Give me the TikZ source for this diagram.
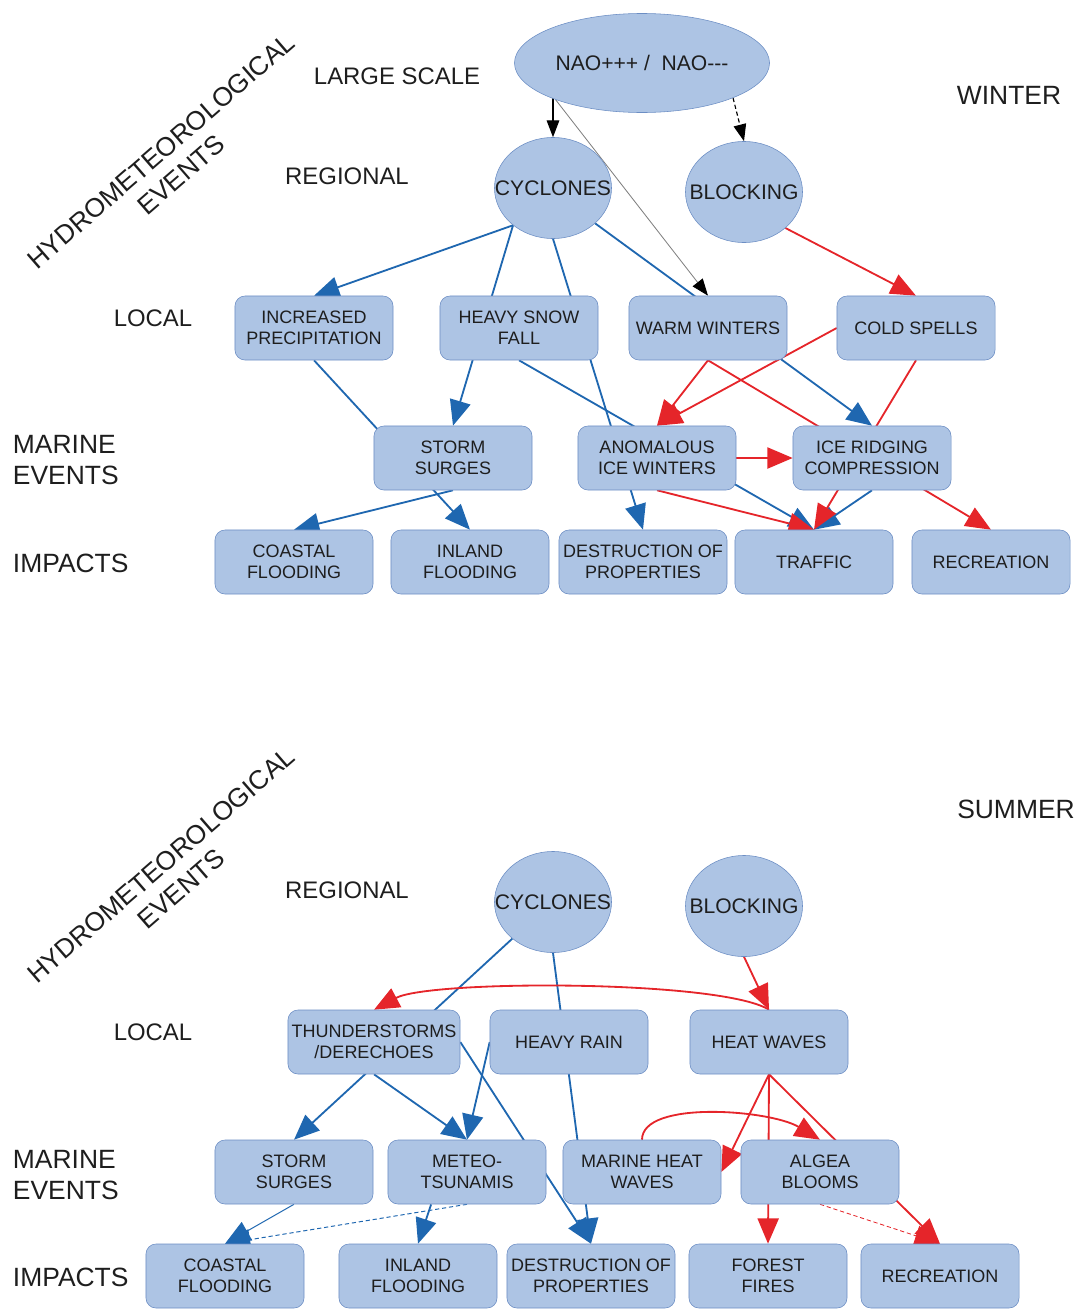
\documentclass[tikz,border=0pt]{standalone}
\usepackage{fontspec}
\setmainfont{Liberation Sans}
\usetikzlibrary{positioning,shapes.geometric,arrows.meta,backgrounds}

\definecolor{boxFill}{RGB}{173,196,228}
\definecolor{boxLine}{RGB}{108,142,196}
\definecolor{lnBlue}{RGB}{31,103,176}
\definecolor{lnRed}{RGB}{229,37,42}
\definecolor{txt}{RGB}{30,30,30}

\begin{document}
\begin{tikzpicture}[
  x=0.025cm,
  y=-0.025cm,
  font=\fontsize{12.8}{14.9}\selectfont,
  n/.style={draw=boxLine, fill=boxFill, rounded corners=0.25cm, minimum width=3.95cm, minimum height=1.6cm, align=center, inner sep=1pt, text=txt},
  c/.style={ellipse, draw=boxLine, fill=boxFill, minimum width=2.925cm, minimum height=2.525cm, label={[text=txt, font=\fontsize{15}{18}\selectfont]center:#1}},
  lbl/.style={text=txt, font=\fontsize{17}{20}\selectfont},
  side/.style={text=txt, font=\fontsize{18.8}{22}\selectfont, align=left},
  bArr/.style={-{Triangle[length=18pt,width=15pt]}, lnBlue, line width=1.3pt},
  rArr/.style={-{Triangle[length=18pt,width=15pt]}, lnRed, line width=1.3pt},
  kArr/.style={-{Triangle[length=12pt,width=9pt]}, black, line width=0.8pt}
]
\useasboundingbox (0,0) rectangle (1079,1309);

% Winter: labels
\node[side, rotate=41, align=center] (wHydro) at (171,163) {HYDROMETEOROLOGICAL\\EVENTS};
\node[lbl] (wLarge) at (397,76) {LARGE SCALE};
\node[lbl] (wRegional) at (347,176) {REGIONAL};
\node[lbl] (wLocal) at (153,318) {LOCAL};
\node[side, anchor=west] (wMarine) at (8,460) {MARINE\\EVENTS};
\node[side, anchor=west] (wImpacts) at (8,563) {IMPACTS};
\node[side] (wSeason) at (1009,95) {WINTER};

% Winter: nodes
\node[c={NAO+++ /\ \ NAO-{}-{}-}, minimum width=6.375cm, minimum height=2.475cm] (wNao) at (642,63) {};
\node[c=CYCLONES] (wCyc) at (553,188) {};
\node[c=BLOCKING] (wBlk) at (744,192) {};

\node[n] (wInc) at (314,328) {INCREASED\\PRECIPITATION};
\node[n] (wSnow) at (519,328) {HEAVY SNOW\\FALL};
\node[n] (wWarm) at (708,328) {WARM WINTERS};
\node[n] (wCold) at (916,328) {COLD SPELLS};

\node[n] (wStorm) at (453,458) {STORM\\SURGES};
\node[n] (wAnom) at (657,458) {ANOMALOUS\\ICE WINTERS};
\node[n] (wIce) at (872,458) {ICE RIDGING\\COMPRESSION};

\node[n] (wCoast) at (294,562) {COASTAL\\FLOODING};
\node[n] (wInl) at (470,562) {INLAND\\FLOODING};
\node[n, minimum width=4.2cm] (wDest) at (643,562) {DESTRUCTION OF\\PROPERTIES};
\node[n] (wTraf) at (814,562) {TRAFFIC};
\node[n] (wRec) at (991,562) {RECREATION};

% Summer: labels
\node[side, rotate=41, align=center] (sHydro) at (171,877) {HYDROMETEOROLOGICAL\\EVENTS};
\node[lbl] (sRegional) at (347,890) {REGIONAL};
\node[lbl] (sLocal) at (153,1032) {LOCAL};
\node[side, anchor=west] (sMarine) at (8,1175) {MARINE\\EVENTS};
\node[side, anchor=west] (sImpacts) at (8,1277) {IMPACTS};
\node[side] (sSeason) at (1016,809) {SUMMER};

% Summer: nodes
\node[c=CYCLONES] (sCyc) at (553,902) {};
\node[c=BLOCKING] (sBlk) at (744,906) {};

\node[n, minimum width=4.3cm] (sThun) at (374,1042) {THUNDERSTORMS\\/DERECHOES};
\node[n] (sRain) at (569,1042) {HEAVY RAIN};
\node[n] (sHeat) at (769,1042) {HEAT WAVES};

\node[n] (sStorm) at (294,1172) {STORM\\SURGES};
\node[n] (sMeteo) at (467,1172) {METEO-\\TSUNAMIS};
\node[n] (sMhw) at (642,1172) {MARINE HEAT\\WAVES};
\node[n] (sAlg) at (820,1172) {ALGEA\\BLOOMS};

\node[n] (sCoast) at (225,1276) {COASTAL\\FLOODING};
\node[n] (sInl) at (418,1276) {INLAND\\FLOODING};
\node[n, minimum width=4.2cm] (sDest) at (591,1276) {DESTRUCTION OF\\PROPERTIES};
\node[n] (sFire) at (768,1276) {FOREST\\FIRES};
\node[n] (sRec) at (940,1276) {RECREATION};

\begin{pgfonlayer}{background}
% Winter: links
\draw[kArr] (wCyc.north |- wNao.center) -- (wCyc.north);
\draw[kArr, densely dashed] (wNao.-21) -- (wBlk.north);
\draw[-{Triangle[length=12pt,width=9pt,color=black]}, gray, line width=0.6pt] (wNao.203) -- (wWarm.north);

\draw[bArr] (wCyc.223) -- (wInc.north);
\draw[bArr] (wCyc.223) -- (wStorm.north);
\draw[bArr] (wCyc.south) -- (wDest.north);
\draw[bArr] (wCyc.-40) -- (wIce.north);
\draw[bArr] (wInc.south) -- (wInl.north);
\draw[bArr] (wStorm.south) -- (wCoast.north);
\draw[bArr] (wSnow.south) -- (wTraf.north);
\draw[bArr] (wIce.south) -- (wTraf.north);

\draw[rArr] (wBlk.-41) -- (wCold.north);
\draw[rArr] (wCold.west) -- (wAnom.north);
\draw[rArr] (wWarm.south) -- (wAnom.north);
\draw[rArr] (wWarm.south) -- (wRec.north);
\draw[rArr] (wCold.south) -- (wTraf.north);
\draw[rArr] (wAnom.east) -- (wIce.west);
\draw[rArr] (wAnom.south) -- (wTraf.north);

% Summer: links
\draw[bArr] (sCyc.222) -- (sStorm.north);
\draw[bArr] (sCyc.south) -- (sDest.north);
\draw[bArr] (sThun.south) -- (sMeteo.north);
\draw[bArr] (sRain.west) -- (sMeteo.north);
\draw[bArr] (sThun.east) -- (sDest.north);
\draw[bArr, line width=0.7pt] (sStorm.south) -- (sCoast.north);
\draw[bArr, line width=0.7pt, densely dashed] (sMeteo.south) -- (sCoast.north);
\draw[bArr] (sMeteo.222) -- (sInl.north);

\draw[rArr] (sBlk.south) -- (sHeat.north);
\draw[rArr] (sHeat.north) .. controls +(-48,-30) and +(56,-30) .. (sThun.north);
\draw[rArr] (sHeat.south) -- (sMhw.east);
\draw[rArr] (sHeat.south) -- (sFire.north);
\draw[rArr] (sHeat.south) -- (sRec.north);
\draw[rArr] (sMhw.north) .. controls +(0,-40) and +(-50,-30) .. (sAlg.north);
\draw[rArr, line width=0.6pt, densely dashed] (sAlg.south) -- (sRec.north);
\end{pgfonlayer}

\end{tikzpicture}
\end{document}
